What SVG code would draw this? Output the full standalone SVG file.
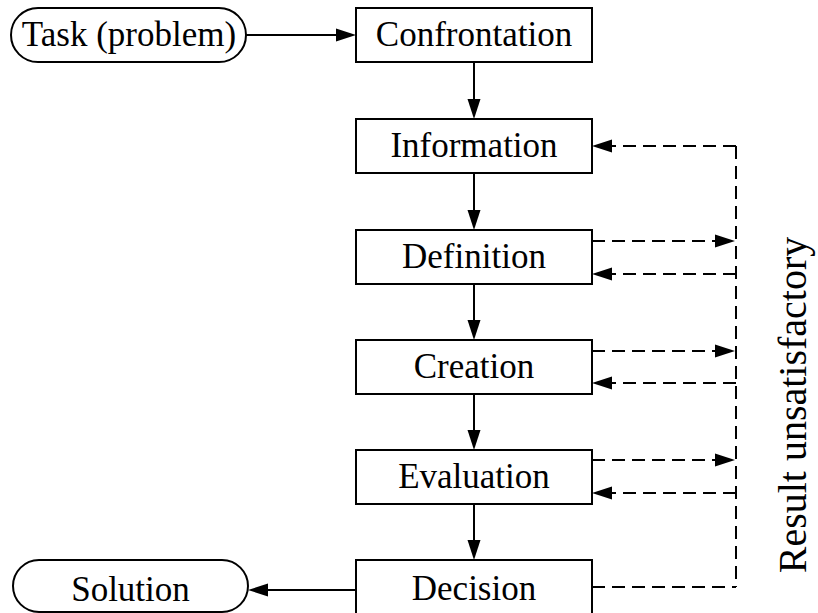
<svg xmlns="http://www.w3.org/2000/svg" width="818" height="613" viewBox="0 0 818 613">
<style>
.box{fill:#fff;stroke:#000;stroke-width:2}
.lbl{font-family:'Liberation Serif','DejaVu Serif',serif;font-size:35px;fill:#000;text-anchor:middle}
.ln{fill:none;stroke:#000;stroke-width:2}
.dash{fill:none;stroke:#000;stroke-width:2;stroke-dasharray:13 7}
</style>
<defs>
<marker id="ah" markerUnits="userSpaceOnUse" markerWidth="20" markerHeight="13" refX="0" refY="6.5" orient="auto" overflow="visible">
<path d="M0,0 L20,6.5 L0,13 Z" fill="#000"/>
</marker>
</defs>
<rect width="818" height="613" fill="#fff"/>
<g id="connectors">
<line class="ln" x1="246" y1="35" x2="336" y2="35" marker-end="url(#ah)"/>
<line class="ln" x1="474" y1="62" x2="474" y2="99" marker-end="url(#ah)"/>
<line class="ln" x1="474" y1="173" x2="474" y2="210" marker-end="url(#ah)"/>
<line class="ln" x1="474" y1="284" x2="474" y2="320" marker-end="url(#ah)"/>
<line class="ln" x1="474" y1="394" x2="474" y2="430" marker-end="url(#ah)"/>
<line class="ln" x1="474" y1="504" x2="474" y2="540" marker-end="url(#ah)"/>
<line class="ln" x1="356" y1="590" x2="268" y2="590" marker-end="url(#ah)"/>
<line class="dash" x1="736" y1="146" x2="736" y2="587"/>
<line class="dash" x1="592" y1="587" x2="736" y2="587"/>
<line class="dash" x1="736" y1="146" x2="612" y2="146" marker-end="url(#ah)"/>
<line class="dash" x1="592" y1="241" x2="715" y2="241" marker-end="url(#ah)"/>
<line class="dash" x1="736" y1="274" x2="612" y2="274" marker-end="url(#ah)"/>
<line class="dash" x1="592" y1="351" x2="715" y2="351" marker-end="url(#ah)"/>
<line class="dash" x1="736" y1="383" x2="612" y2="383" marker-end="url(#ah)"/>
<line class="dash" x1="592" y1="460" x2="715" y2="460" marker-end="url(#ah)"/>
<line class="dash" x1="736" y1="493" x2="612" y2="493" marker-end="url(#ah)"/>
</g>
<g id="task">
<rect class="box" x="11" y="8" width="235" height="54" rx="27" ry="27"/>
<text class="lbl" x="129" y="46">Task (problem)</text>
</g>
<g id="confrontation">
<rect class="box" x="356" y="8" width="236" height="54"/>
<text class="lbl" x="474" y="46">Confrontation</text>
</g>
<g id="information">
<rect class="box" x="356" y="119" width="236" height="54"/>
<text class="lbl" x="474" y="157">Information</text>
</g>
<g id="definition">
<rect class="box" x="356" y="230" width="236" height="54"/>
<text class="lbl" x="474" y="268">Definition</text>
</g>
<g id="creation">
<rect class="box" x="356" y="340" width="236" height="54"/>
<text class="lbl" x="474" y="378">Creation</text>
</g>
<g id="evaluation">
<rect class="box" x="356" y="450" width="236" height="54"/>
<text class="lbl" x="474" y="488">Evaluation</text>
</g>
<g id="decision">
<rect class="box" x="356" y="560" width="236" height="58"/>
<text class="lbl" x="474" y="600">Decision</text>
</g>
<g id="solution">
<rect class="box" x="13" y="560" width="235" height="52" rx="26" ry="26"/>
<text class="lbl" x="130.5" y="601">Solution</text>
</g>
<g id="result-label">
<text class="lbl" transform="translate(806,405) rotate(-90)" x="0" y="0" style="font-size:40px">Result unsatisfactory</text>
</g>
</svg>
